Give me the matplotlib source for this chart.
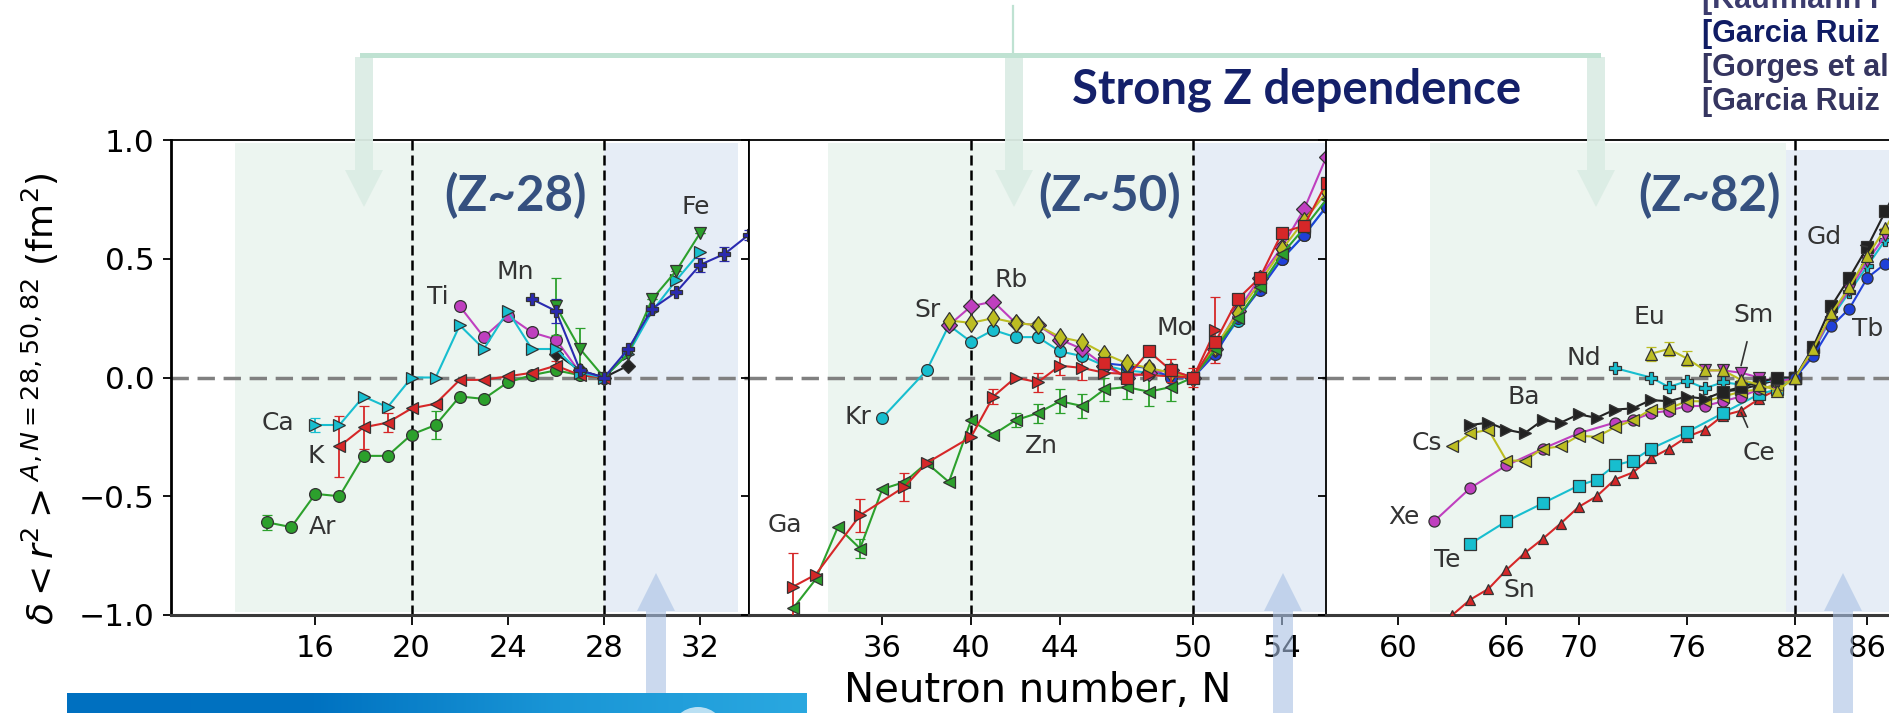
import matplotlib.pyplot as plt
import numpy as np
from matplotlib.patches import Polygon, Ellipse
from matplotlib.colors import LinearSegmentedColormap

# ---- data: delta <r^2> (fm^2) relative to N = 28, 50, 82 ----
# panel 1 (Z~28)
ar_n = [14, 15, 16, 17, 18, 19, 20, 21, 22, 23, 24, 25, 26, 27, 28]
ar_r = [-0.61, -0.63, -0.49, -0.50, -0.33, -0.33, -0.24, -0.20, -0.08, -0.09, -0.02, 0.01, 0.03, 0.01, 0.0]
ar_e = [0.03, 0, 0, 0, 0, 0, 0, 0.06, 0, 0, 0, 0, 0, 0, 0]
k_n = [17, 18, 19, 20, 21, 22, 23, 24, 25, 26, 27, 28]
k_r = [-0.29, -0.21, -0.19, -0.13, -0.11, -0.01, -0.01, 0.005, 0.02, 0.05, 0.01, 0.0]
k_e = [0.13, 0.09, 0.04, 0, 0, 0, 0, 0, 0, 0.02, 0, 0]
ca_n = [16, 17, 18, 19, 20, 21, 22, 23, 24, 25, 26, 27, 28, 29, 30, 31, 32]
ca_r = [-0.20, -0.20, -0.08, -0.125, 0.0, 0.0, 0.22, 0.12, 0.28, 0.12, 0.12, 0.02, 0.0, 0.10, 0.28, 0.41, 0.53]
ca_e = [0.03, 0, 0, 0, 0, 0, 0, 0, 0, 0, 0, 0, 0, 0, 0, 0, 0]
ti_n = [22, 23, 24, 25, 26, 27, 28]
ti_r = [0.30, 0.17, 0.26, 0.19, 0.16, 0.02, 0.0]
mn_n = [25, 26, 27, 28, 29, 30, 31, 32, 33, 34]
mn_r = [0.33, 0.28, 0.03, 0.0, 0.12, 0.29, 0.36, 0.475, 0.52, 0.60]
mn_e = [0, 0.05, 0, 0, 0, 0, 0, 0.03, 0.03, 0.02]
fe_n = [26, 27, 28, 29, 30, 31, 32]
fe_r = [0.30, 0.12, 0.0, 0.10, 0.33, 0.45, 0.61]
fe_e = [0.12, 0.09, 0, 0, 0, 0, 0]
cr_n = [26, 27, 28, 29]
cr_r = [0.10, 0.03, 0.0, 0.05]

# panel 2 (Z~50)
kr_n = [36, 38, 39, 40, 41, 42, 43, 44, 45, 46, 47, 48, 49, 50, 51, 52, 53, 54, 55, 56]
kr_r = [-0.17, 0.03, 0.22, 0.15, 0.20, 0.17, 0.17, 0.11, 0.09, 0.05, 0.03, 0.02, 0.01, 0.0,
        0.11, 0.24, 0.38, 0.50, 0.60, 0.72]
rb_n = [39, 40, 41, 42, 43, 44, 45, 46, 47, 48, 49, 50, 51, 52, 53, 54, 55, 56]
rb_r = [0.22, 0.30, 0.32, 0.23, 0.22, 0.16, 0.12, 0.05, 0.0, 0.02, 0.03, 0.0, 0.12, 0.28, 0.42, 0.55, 0.71, 0.93]
sr_n = [39, 40, 41, 42, 43, 44, 45, 46, 47, 48, 49, 50, 51, 52, 53, 54, 55, 56]
sr_r = [0.24, 0.23, 0.25, 0.23, 0.22, 0.17, 0.15, 0.10, 0.06, 0.04, 0.02, 0.0, 0.13, 0.27, 0.40, 0.54, 0.66, 0.78]
zn_n = [32, 33, 34, 35, 36, 37, 38, 39, 40, 41, 42, 43, 44, 45, 46, 47, 48, 49, 50, 51, 52, 53, 54, 55, 56]
zn_r = [-0.97, -0.85, -0.63, -0.72, -0.47, -0.44, -0.36, -0.44, -0.18, -0.24, -0.18, -0.15, -0.10, -0.12,
        -0.05, -0.04, -0.06, -0.04, 0.0, 0.12, 0.25, 0.38, 0.52, 0.63, 0.75]
zn_e = [0, 0, 0, 0.04, 0, 0, 0, 0, 0, 0, 0.03, 0.04, 0.05, 0.05, 0.05, 0.05, 0.06, 0.06, 0, 0, 0, 0, 0, 0, 0]
ga_n = [32, 33, 35, 37, 38, 40, 41, 42, 43, 44, 45, 46, 48, 50, 51]
ga_r = [-0.88, -0.83, -0.58, -0.46, -0.36, -0.25, -0.08, 0.0, -0.02, 0.05, 0.04, 0.02, 0.01, 0.0, 0.20]
ga_e = [0.14, 0, 0.07, 0.06, 0, 0, 0.03, 0, 0.04, 0.04, 0.05, 0, 0, 0, 0.14]
mo_n = [46, 47, 48, 49, 50, 51, 52, 53, 54, 55, 56]
mo_r = [0.06, 0.0, 0.11, 0.03, 0.0, 0.15, 0.33, 0.42, 0.61, 0.64, 0.82]
mo_e = [0, 0, 0, 0.05, 0.04, 0, 0, 0, 0, 0, 0]
y_n = [46, 47, 48, 49, 50, 51, 52, 53, 54, 55, 56]
y_r = [0.06, 0.05, 0.04, 0.0, 0.0, 0.10, 0.25, 0.37, 0.50, 0.60, 0.72]

# panel 3 (Z~82)
xe_n = [62, 64, 66, 68, 70, 72, 73, 74, 75, 76, 77, 78, 79, 80, 81, 82]
xe_r = [-0.605, -0.465, -0.37, -0.30, -0.235, -0.19, -0.18, -0.15, -0.14, -0.12, -0.12, -0.10, -0.08, -0.05, -0.03, 0.0]
cs_n = [63, 64, 65, 66, 67, 68, 69, 70, 71, 72, 73, 74, 75, 76, 77, 78, 79, 80, 81, 82]
cs_r = [-0.29, -0.235, -0.22, -0.35, -0.35, -0.30, -0.29, -0.245, -0.25, -0.21, -0.18, -0.135, -0.13,
        -0.10, -0.10, -0.08, -0.06, -0.05, -0.03, 0.0]
ba_n = [64, 65, 66, 67, 68, 69, 70, 71, 72, 73, 74, 75, 76, 77, 78, 79, 80, 81, 82]
ba_r = [-0.20, -0.19, -0.22, -0.235, -0.18, -0.19, -0.155, -0.17, -0.135, -0.13, -0.095, -0.10, -0.08,
        -0.09, -0.06, -0.05, -0.03, -0.01, 0.0]
te_n = [64, 66, 68, 70, 71, 72, 73, 74, 76, 78, 80, 81, 82]
te_r = [-0.70, -0.605, -0.53, -0.455, -0.43, -0.37, -0.35, -0.30, -0.23, -0.15, -0.07, -0.05, 0.0]
sn_n = [63, 64, 65, 66, 67, 68, 69, 70, 71, 72, 73, 74, 75, 76, 77, 78, 79, 80, 81, 82]
sn_r = [-1.0, -0.935, -0.89, -0.81, -0.74, -0.68, -0.615, -0.545, -0.50, -0.43, -0.40, -0.34, -0.30,
        -0.25, -0.22, -0.16, -0.14, -0.09, -0.05, 0.0]
nd_n = [72, 74, 75, 76, 77, 78, 79, 80, 81, 82, 83, 84, 85, 86, 87, 88]
nd_r = [0.04, 0.0, -0.04, -0.015, -0.045, -0.02, -0.03, -0.02, -0.01, 0.0, 0.11, 0.25, 0.36, 0.47, 0.58, 0.69]
eu_n = [74, 75, 76, 77, 78, 79, 80, 81, 82, 83, 84, 85, 86, 87, 88]
eu_r = [0.10, 0.12, 0.08, 0.03, 0.03, -0.01, -0.03, -0.055, 0.0, 0.12, 0.27, 0.38, 0.51, 0.63, 0.76]
eu_e = [0.03, 0.03, 0.03, 0, 0, 0, 0, 0, 0, 0, 0, 0, 0, 0, 0]
sm_n = [77, 78, 79, 80, 81, 82, 83, 84, 85, 86, 87, 88]
sm_r = [0.03, 0.03, 0.02, 0.0, -0.02, 0.0, 0.11, 0.26, 0.37, 0.49, 0.60, 0.72]
gd_n = [78, 79, 80, 81, 82, 83, 84, 85, 86, 87, 88]
gd_r = [-0.06, -0.04, -0.02, 0.0, 0.0, 0.13, 0.30, 0.42, 0.55, 0.70, 0.85]
tb_n = [82, 83, 84, 85, 86, 87, 88]
tb_r = [0.0, 0.09, 0.215, 0.29, 0.42, 0.48, 0.58]

panel_xlim = [(10, 34), (30, 56), (56, 88)]
panel_ticks = [[16, 20, 24, 28, 32], [36, 40, 44, 50, 54], [60, 66, 70, 76, 82, 86]]
magic_lines = [[20, 28], [40, 50], [82]]
green_span = [(12.65, 28), (33.57, 50), (61.75, 81.5)]
blue_span = [(28, 33.58), (50, 56), (81.5, 88)]
zlabels = ['(Z~28)', '(Z~50)', '(Z~82)']
refs = ['[Kaufmann r', '[Garcia Ruiz', '[Gorges et al', '[Garcia Ruiz']

GREEN, RED, CYAN, MAG = '#2ca02c', '#d62728', '#17becf', '#bf3fbf'
OLIVE, NAVY, BLUE, BLACK = '#bcbd22', '#2a2ab0', '#2040d8', '#222222'

W, H = 1890, 713
fig = plt.figure(figsize=(W / 100, H / 100), dpi=100)


def fx(x):
    return x / W


def fy(y):
    return 1 - y / H


axes = []
lefts = [171, 749, 1326]
for i, left in enumerate(lefts):
    ax = fig.add_axes([fx(left), fy(615), 577.5 / W, 475 / H], sharey=axes[0] if axes else None)
    axes.append(ax)
ax1, ax2, ax3 = axes


def draw(ax, n, r, color, marker, err=None, ms=8.5):
    if err is None:
        ax.plot(n, r, marker=marker, color=color, mec='#333333', mew=0.9, ms=ms, lw=1.5, zorder=4)
    else:
        ax.errorbar(n, r, yerr=err, marker=marker, color=color, mec='#333333', mew=0.9, ms=ms, lw=1.5,
                    ecolor=color, elinewidth=1.3, capsize=3.5, capthick=1.3, zorder=4)


for i, ax in enumerate(axes):
    ax.set_xlim(*panel_xlim[i])
    ax.set_ylim(-1, 1)
    ax.axvspan(*green_span[i], ymin=0.006, ymax=0.994, color='#ecf5f0', lw=0, zorder=0)
    top = 0.979 if i == 2 else 0.994
    ax.axvspan(*blue_span[i], ymin=0.006, ymax=top, color='#e6edf6', lw=0, zorder=0)
    for x in magic_lines[i]:
        ax.axvline(x, color='k', ls=(0, (4, 2)), lw=1.8, zorder=2)
    ax.axhline(0, color='#808080', ls=(0, (5, 2.5)), lw=2.5, zorder=1.5)
    ax.set_xticks(panel_ticks[i])
    ax.set_yticks([-1, -0.5, 0, 0.5, 1])
    ax.tick_params(axis='x', direction='out', length=7, width=1.3, labelsize=22, pad=7)
    ax.tick_params(axis='y', direction='out', length=6, width=1.3, labelsize=22.5, pad=6)
    for s in ['left', 'right', 'top']:
        ax.spines[s].set_linewidth(1.3)
    ax.spines['bottom'].set_linewidth(2.2)
    ax.spines['bottom'].set_color('#3a3a3a')
    if i > 0:
        ax.tick_params(labelleft=False)
ax1.spines['left'].set_linewidth(2)

# panel 1
draw(ax1, ar_n, ar_r, GREEN, 'o', ar_e)
draw(ax1, k_n, k_r, RED, '<', k_e)
draw(ax1, ca_n, ca_r, CYAN, '>', ca_e)
draw(ax1, ti_n, ti_r, MAG, 'o')
draw(ax1, fe_n, fe_r, GREEN, 'v', fe_e)
draw(ax1, cr_n, cr_r, BLACK, 'D', ms=7)
draw(ax1, mn_n, mn_r, NAVY, 'P', mn_e)

# panel 2
draw(ax2, zn_n, zn_r, GREEN, '<', zn_e)
draw(ax2, ga_n, ga_r, RED, '>', ga_e)
draw(ax2, kr_n, kr_r, CYAN, 'o')
draw(ax2, y_n, y_r, BLUE, 'o')
draw(ax2, rb_n, rb_r, MAG, 'D')
draw(ax2, sr_n, sr_r, OLIVE, 'd', ms=9.5)
draw(ax2, mo_n, mo_r, RED, 's', mo_e)

# panel 3
draw(ax3, sn_n, sn_r, RED, '^', ms=7.5)
draw(ax3, te_n, te_r, CYAN, 's', ms=8)
draw(ax3, xe_n, xe_r, MAG, 'o', ms=8)
draw(ax3, cs_n, cs_r, OLIVE, '<', ms=8)
draw(ax3, ba_n, ba_r, BLACK, '>', ms=8)
draw(ax3, nd_n, nd_r, CYAN, 'P', ms=8)
draw(ax3, eu_n, eu_r, OLIVE, '^', eu_e, ms=8)
draw(ax3, sm_n, sm_r, MAG, 'v', ms=8)
draw(ax3, gd_n, gd_r, BLACK, 's', ms=8)
draw(ax3, tb_n, tb_r, BLUE, 'o', ms=8)

# element labels
lab = dict(fontsize=18, color='#333333', ha='center', va='center', zorder=6)
for ax, items in [
    (ax1, [('Ca', 14.45, -0.19), ('K', 16.0, -0.33), ('Ar', 16.3, -0.63), ('Ti', 21.1, 0.34),
           ('Mn', 24.3, 0.445), ('Fe', 31.8, 0.72)]),
    (ax2, [('Kr', 34.9, -0.165), ('Sr', 38.05, 0.284), ('Rb', 41.8, 0.41), ('Zn', 43.15, -0.29),
           ('Ga', 31.6, -0.62), ('Mo', 49.16, 0.21)]),
    (ax3, [('Xe', 60.3, -0.586), ('Te', 62.7, -0.77), ('Sn', 66.7, -0.895), ('Cs', 61.6, -0.277),
           ('Ba', 66.96, -0.08), ('Nd', 70.3, 0.083), ('Eu', 73.9, 0.255)]),
]:
    for t, x, y in items:
        ax.text(x, y, t, **lab)
ax3.text(85.15, 0.206, 'Tb', fontsize=18, color='#333333', ha='left', va='center', zorder=6)
ax3.annotate('Sm', xy=(79.0, 0.05), xytext=(79.7, 0.264), arrowprops=dict(arrowstyle='-', color='#333333', lw=1.2,
             shrinkA=9, shrinkB=0), **lab)
ax3.annotate('Ce', xy=(79.0, -0.147), xytext=(80.0, -0.32), arrowprops=dict(arrowstyle='-', color='#333333', lw=1.2,
             shrinkA=9, shrinkB=0), **lab)
ax3.annotate('Gd', xy=(86.0, 0.55), xytext=(83.6, 0.59), arrowprops=dict(arrowstyle='-', color='#333333', lw=1.2,
             shrinkA=12, shrinkB=0), **lab)

ax1.set_ylabel(r'$\delta{<}r^2{>}^{A,N=28,50,82}$ (fm$^2$)', fontsize=26)
ax1.yaxis.set_label_coords(-0.19, 0.455)
ax2.set_xlabel('Neutron number, N', fontsize=29)
ax2.xaxis.set_label_coords(0.5, -0.118)

# slide overlays: bracket with down arrows, up arrows, titles
mint_bar = '#bfe2d2'
mint = '#dcede5'


def down_arrow(cx, color, sw=18, hw=38, top=57, hb=170, tip=207):
    pts = [(cx - sw / 2, top), (cx + sw / 2, top), (cx + sw / 2, hb), (cx + hw / 2, hb), (cx, tip),
           (cx - hw / 2, hb), (cx - sw / 2, hb)]
    fig.add_artist(Polygon([(fx(x), fy(y)) for x, y in pts], closed=True, transform=fig.transFigure,
                           facecolor=color, edgecolor='none', alpha=0.95, zorder=20))


def up_arrow(cx, color, sw=20, hw=38, bottom=713, hb=611, tip=573):
    pts = [(cx - sw / 2, bottom), (cx - sw / 2, hb), (cx - hw / 2, hb), (cx, tip), (cx + hw / 2, hb),
           (cx + sw / 2, hb), (cx + sw / 2, bottom)]
    fig.add_artist(Polygon([(fx(x), fy(y)) for x, y in pts], closed=True, transform=fig.transFigure,
                           facecolor=color, edgecolor='none', alpha=0.6, zorder=20))


for cx in [364, 1014, 1596]:
    down_arrow(cx, mint)
fig.add_artist(plt.Line2D([fx(362), fx(1598)], [fy(54.5), fy(54.5)], transform=fig.transFigure,
                          color=mint_bar, lw=3.6, zorder=21))
fig.add_artist(plt.Line2D([fx(1013), fx(1013)], [fy(6), fy(54)], transform=fig.transFigure,
                          color=mint_bar, lw=1.6, zorder=21))
for cx in [656, 1283, 1843]:
    up_arrow(cx, '#a9c1e4')

# gradient box at bottom left
cmap = LinearSegmentedColormap.from_list('slide', ['#0070c0', '#0072c1', '#1a96d6', '#2aa8e0'])
axb = fig.add_axes([fx(67), 0, (807 - 67) / W, 20 / H], zorder=25)
axb.imshow(np.linspace(0, 1, 256)[None, :], aspect='auto', cmap=cmap, extent=[0, 1, 0, 1])
axb.axis('off')
fig.add_artist(Ellipse((fx(698), fy(735)), 56 / W, 56 / H, transform=fig.transFigure,
                       facecolor='#d6ecf8', edgecolor='none', alpha=0.85, zorder=30))

fig.text(fx(1297), fy(104), 'Strong Z dependence', ha='center', va='baseline', fontsize=34,
         fontweight='bold', family='Lato', color='#14206a', zorder=22)
for x, t in zip([516, 1110, 1710], zlabels):
    fig.text(fx(x), fy(196), t, ha='center', va='center', fontsize=35.5, fontweight='bold',
             family='Lato', color='#35507f', zorder=22)

ref_colors = ['#3c3c6e', '#101c64', '#353560', '#353560']
for k, (t, c) in enumerate(zip(refs, ref_colors)):
    fig.text(fx(1702), fy(8 + 34 * k), t, ha='left', va='baseline', fontsize=22,
             fontweight='bold', family='Liberation Sans', color=c, zorder=22)

fig.savefig('out.png', dpi=100)
